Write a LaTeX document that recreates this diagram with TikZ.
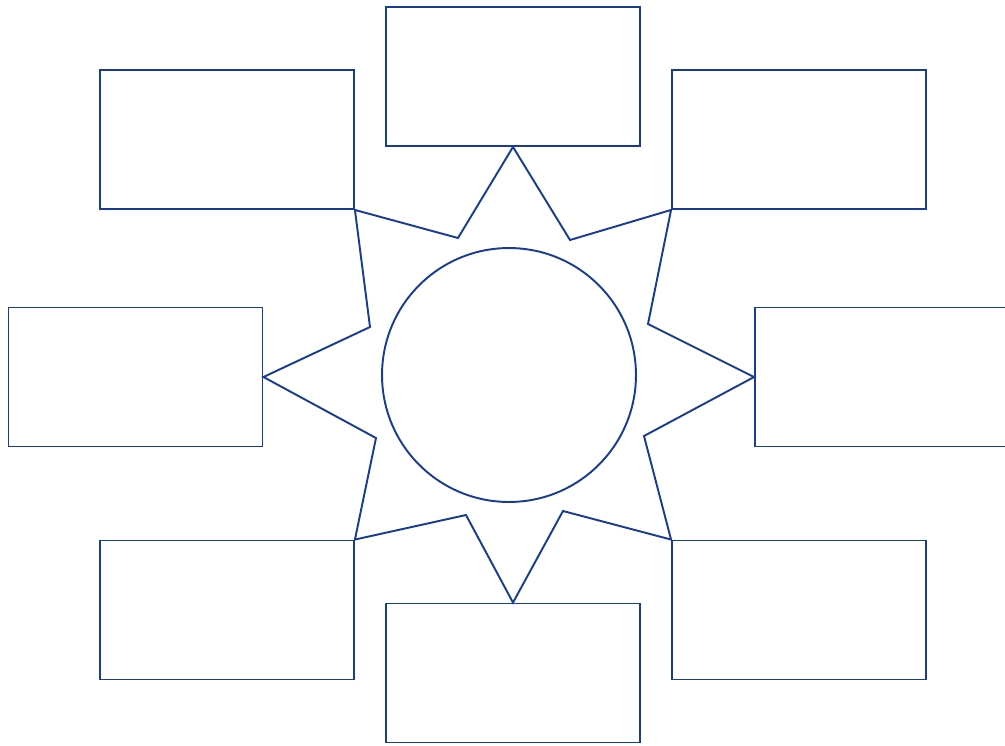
\documentclass[tikz,border=0pt]{standalone}
\usepackage{xcolor}
\definecolor{StarBlue}{HTML}{183C94}
\usepackage{tikz}
\usetikzlibrary{positioning}

\begin{document}
\begin{tikzpicture}[
  x=0.02cm,y=-0.02cm,
  box/.style={draw=StarBlue,line width=1.1pt,minimum width=5.08cm,minimum height=2.78cm,inner sep=0pt},
  hub/.style={draw=StarBlue,line width=1.1pt,circle,minimum size=5.08cm,inner sep=0pt},
  ray/.style={draw=StarBlue,line width=1.1pt,line join=miter}
]
\useasboundingbox (0,0) rectangle (1005,745);
\clip (0,0) rectangle (1005,745);
% outer boxes
\node[box] (top) at (513,76.5) {};
\node[box] (topleft) at (227,139.5) {};
\node[box] (topright) at (799,139.5) {};
\node[box] (left) at (135.5,377) {};
\node[box] (right) at (882,377) {};
\node[box] (botleft) at (227,610) {};
\node[box] (bottom) at (513,673) {};
\node[box] (botright) at (799,610) {};
% centre
\node[hub] (sun) at (509,375) {};
% star between the boxes
\coordinate (i1) at (570,240);
\coordinate (i2) at (648,324);
\coordinate (i3) at (644,436);
\coordinate (i4) at (563,511);
\coordinate (i5) at (466,515);
\coordinate (i6) at (376,438);
\coordinate (i7) at (370,327);
\coordinate (i8) at (458,238);
\draw[ray] (top.south) -- (i1) -- (topright.south west) -- (i2) -- (right.west) -- (i3)
  -- (botright.north west) -- (i4) -- (bottom.north) -- (i5) -- (botleft.north east) -- (i6)
  -- (left.east) -- (i7) -- (topleft.south east) -- (i8) -- cycle;
\end{tikzpicture}
\end{document}
